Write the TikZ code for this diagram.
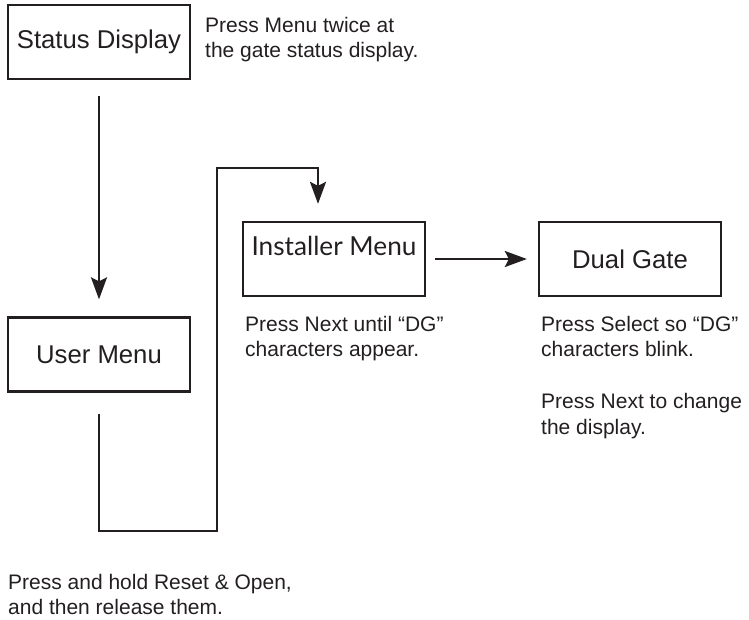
\documentclass[tikz,border=0pt]{standalone}
\usepackage{fontspec}
\setmainfont{Liberation Sans}
\newfontfamily\menufont{Lato}
\usepackage{tikz}
\usepackage{xcolor}
\usetikzlibrary{arrows.meta}

\definecolor{ink}{RGB}{35,31,32}

\begin{document}
\begin{tikzpicture}[x=1pt,y=-1pt,
		box/.style={draw=ink, line width=2.3pt, minimum width=182pt, minimum height=74pt, inner sep=0pt, font=\fontsize{25.7}{30}\selectfont},
		note/.style={anchor=north west, align=left, inner sep=0pt, font=\fontsize{21}{25.5}\selectfont},
		flow/.style={draw=ink, line width=2.3pt, -{Stealth[length=22pt,width=16pt,inset=4pt]}}]
		\useasboundingbox (0,0) rectangle (749,619);
		\color{ink}

		% Draw the four menu boxes
		\node[box] (status) at (99,42) {Status Display};
		\node[box] (user) at (99,354.5) {User Menu};
		\node[box, text height=18pt, text depth=26pt, font=\menufont\fontsize{26.2}{30}\selectfont] (installer) at (334,259) {Installer Menu};
		\node[box] (dualgate) at (630,259) {Dual Gate};

		% Draw the notes next to and below the boxes
		\node[note] (statusnote) at (205,17) {Press Menu twice at\\the gate status display.};
		\node[note] (installernote) at (245,316) {Press Next until “DG”\\characters appear.};
		\node[note] (dualnote) at (541,316) {Press Select so “DG”\\characters blink.\\[26.5pt]Press Next to change\\the display.};
		\node[note] (usernote) at (8,574) {Press and hold Reset \& Open,\\and then release them.};

		% Draw the corners of the loop from the user menu
		\coordinate (loopa) at (99,531);
		\coordinate (loopb) at (217,531);
		\coordinate (loopc) at (217,168);
		\coordinate (loopd) at (318,168);

		% Draw the arrows between the boxes
		\draw[flow, shorten <=16pt, shorten >=17pt] (status) -- (user);
		\draw[flow, shorten >=17pt] ([yshift=-21pt]user.south) -- (loopa) -- (loopb) -- (loopc) -- (loopd) -- (loopd |- installer.north);
		\draw[flow, shorten <=9pt, shorten >=11pt] (installer) -- (dualgate);
	\end{tikzpicture}
\end{document}
